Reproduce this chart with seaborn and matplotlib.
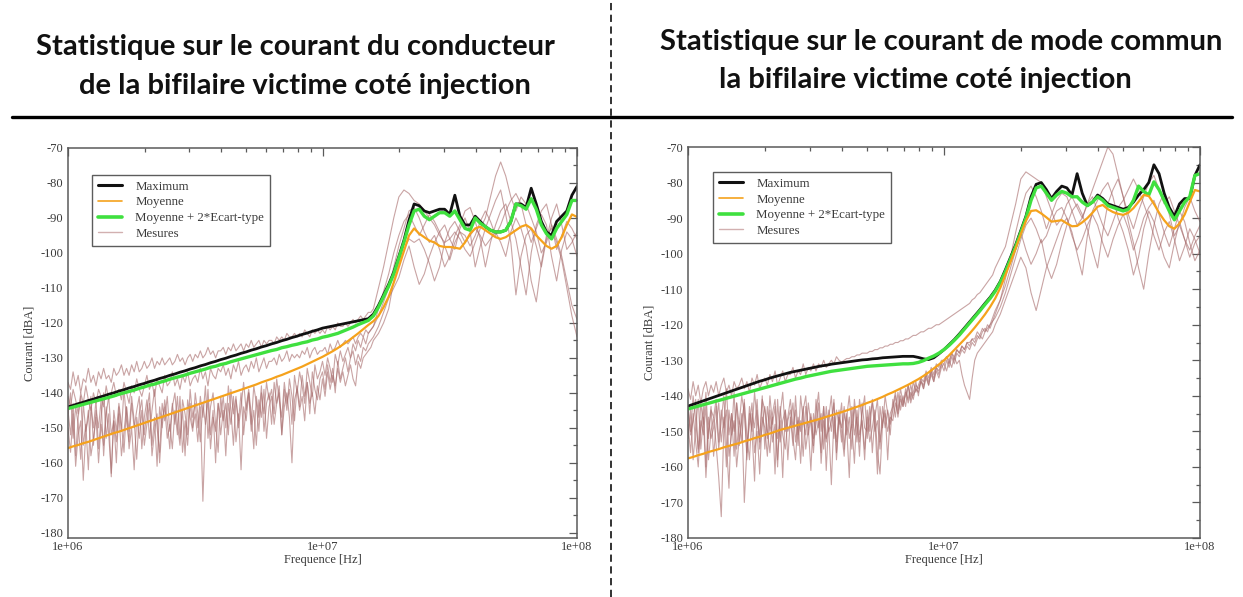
import numpy as np
import matplotlib
matplotlib.use("Agg")
import matplotlib.pyplot as plt
from matplotlib.lines import Line2D
from matplotlib.ticker import FixedLocator, MultipleLocator, NullFormatter, FuncFormatter
import seaborn as sns

# ---------------------------------------------------------------------------
# Frequency sweeps (Hz): statistics on a 0.02-decade grid, measurements on a
# 0.01-decade grid below 15.8 MHz and a 0.02-decade grid above.
# ---------------------------------------------------------------------------
freq_stats = 10 ** (6 + np.arange(101) * 0.02)
freq_mes = 10 ** (6 + np.concatenate([np.arange(120) * 0.01, 1.2 + np.arange(41) * 0.02]))

# ---------------- Left: courant du conducteur (dBA) ----------------
left_max = [
    -144.0, -143.6, -143.1, -142.7, -142.2, -141.8, -141.3, -140.9, -140.4, -140.0,
    -139.5, -139.1, -138.6, -138.2, -137.7, -137.3, -136.8, -136.4, -135.9, -135.5,
    -135.0, -134.6, -134.1, -133.7, -133.2, -132.8, -132.3, -131.9, -131.4, -131.0,
    -130.5, -130.1, -129.6, -129.2, -128.7, -128.3, -127.8, -127.4, -126.9, -126.5,
    -126.0, -125.6, -125.1, -124.7, -124.2, -123.8, -123.3, -122.9, -122.4, -122.0,
    -121.5, -121.2, -120.9, -120.6, -120.3, -120.0, -119.7, -119.4, -119.1, -118.8,
    -117.5, -115.0, -112.0, -109.0, -105.5, -101.0, -96.4, -90.6, -86.0, -86.5,
    -88.0, -88.5, -88.0, -87.5, -87.5, -89.0, -83.5, -89.5, -92.0, -92.0,
    -89.5, -91.0, -92.5, -93.5, -94.0, -94.0, -93.5, -91.0, -86.0, -86.0,
    -87.0, -81.5, -86.0, -91.0, -94.0, -95.0, -91.0, -89.5, -88.0, -83.5,
    -81.0,
]
left_moy = [
    -155.8, -155.3, -154.9, -154.4, -154.0, -153.5, -153.0, -152.5, -152.0, -151.5,
    -151.1, -150.6, -150.1, -149.6, -149.1, -148.6, -148.1, -147.6, -147.1, -146.6,
    -146.1, -145.6, -145.1, -144.6, -144.1, -143.6, -143.1, -142.6, -142.1, -141.6,
    -141.1, -140.6, -140.1, -139.6, -139.1, -138.6, -138.1, -137.6, -137.0, -136.5,
    -136.0, -135.4, -134.9, -134.3, -133.7, -133.1, -132.5, -131.8, -131.1, -130.4,
    -129.7, -128.9, -128.1, -127.2, -126.2, -125.2, -124.1, -123.0, -121.8, -120.6,
    -119.5, -118.0, -115.5, -112.5, -108.5, -104.0, -99.5, -95.0, -93.0, -94.5,
    -95.5, -96.5, -97.0, -98.0, -98.3, -98.3, -98.5, -98.8, -97.0, -94.5,
    -93.0, -92.5, -93.5, -94.5, -95.5, -96.0, -95.5, -94.5, -93.5, -92.5,
    -92.0, -93.0, -95.0, -96.5, -98.0, -98.8, -98.0, -95.5, -92.0, -89.0,
    -89.7,
]
left_moy2s = [
    -144.5, -144.1, -143.7, -143.3, -142.9, -142.5, -142.1, -141.7, -141.3, -140.9,
    -140.4, -140.0, -139.6, -139.2, -138.7, -138.3, -137.8, -137.5, -137.0, -136.6,
    -136.1, -135.7, -135.3, -134.9, -134.4, -134.0, -133.6, -133.2, -132.7, -132.4,
    -131.9, -131.6, -131.1, -130.7, -130.3, -129.9, -129.5, -129.1, -128.7, -128.3,
    -127.9, -127.6, -127.1, -126.8, -126.4, -126.1, -125.7, -125.4, -124.9, -124.6,
    -124.1, -123.8, -123.4, -123.0, -122.4, -121.8, -121.2, -120.5, -119.9, -119.3,
    -118.0, -115.5, -112.5, -109.5, -106.0, -101.5, -97.0, -92.0, -88.0, -87.5,
    -89.5, -90.5, -89.5, -88.5, -88.5, -89.5, -88.0, -90.5, -93.0, -93.5,
    -90.0, -91.5, -92.5, -93.5, -94.0, -94.0, -93.5, -91.0, -86.0, -86.5,
    -87.5, -84.5, -87.5, -92.0, -94.5, -96.0, -93.0, -91.0, -89.0, -85.0,
    -85.0,
]

left_mes_1 = [
    -137, -139, -134, -138, -135, -140, -136, -137, -133, -137,
    -135, -138, -134, -136, -133, -136, -135, -137, -133, -135,
    -134, -132, -135, -133, -135, -132, -134, -131, -134, -133,
    -131, -133, -132, -130, -133, -131, -132, -130, -132, -131,
    -130, -132, -131, -129, -131, -130, -132, -130, -129, -131,
    -129, -130, -128, -130, -129, -127, -129, -128, -130, -128,
    -128, -127, -129, -127, -128, -126, -128, -127, -126, -128,
    -126, -127, -125, -127, -126, -125, -127, -125, -126, -125,
    -125, -126, -124, -125, -124, -125, -123, -124, -124, -123,
    -124, -123, -124, -122, -123, -124, -122, -123, -122, -123,
    -122, -123, -121, -122, -121, -122, -120, -121, -121, -120,
    -121, -120, -119, -120, -119, -118, -119, -118, -117, -117,
    -116, -110, -104, -97, -90, -84, -82, -83, -85, -86,
    -88, -90, -92, -95, -97, -96, -94, -96, -99, -101,
    -97, -93, -90, -84, -78, -74, -78, -84, -88, -84,
    -86, -90, -94, -100, -97, -92, -96, -101, -108, -115,
    -119,
]
left_mes_2 = [
    -141, -144, -139, -142, -146, -140, -143, -138, -142, -145,
    -140, -143, -139, -141, -144, -138, -142, -140, -137, -141,
    -139, -142, -137, -140, -143, -138, -140, -136, -139, -141,
    -138, -135, -139, -137, -141, -136, -138, -140, -135, -138,
    -137, -134, -138, -136, -139, -135, -137, -134, -138, -136,
    -135, -137, -133, -136, -134, -138, -133, -135, -136, -133,
    -134, -132, -135, -133, -136, -132, -134, -131, -135, -133,
    -132, -134, -131, -133, -130, -134, -132, -130, -133, -131,
    -131, -130, -132, -129, -131, -130, -128, -131, -129, -130,
    -129, -130, -128, -129, -127, -130, -128, -127, -129, -128,
    -128, -127, -129, -126, -128, -127, -125, -127, -126, -125,
    -126, -125, -124, -126, -124, -123, -124, -122, -123, -122,
    -121, -118, -114, -110, -104, -98, -93, -88, -87, -90,
    -94, -97, -95, -99, -104, -101, -95, -92, -88, -87,
    -91, -96, -104, -97, -92, -88, -86, -91, -96, -104,
    -112, -100, -92, -88, -86, -92, -99, -95, -91, -93,
    -96,
]
left_mes_3 = [
    -145, -152, -143, -158, -147, -141, -155, -149, -162, -144,
    -150, -142, -156, -147, -140, -153, -146, -164, -145, -151,
    -143, -149, -157, -144, -151, -141, -148, -159, -146, -142,
    -152, -145, -140, -155, -147, -161, -144, -150, -142, -148,
    -156, -143, -149, -141, -153, -145, -158, -142, -147, -151,
    -140, -146, -154, -143, -149, -139, -152, -145, -160, -143,
    -147, -141, -150, -138, -145, -155, -142, -148, -140, -152,
    -144, -139, -146, -156, -141, -147, -138, -151, -143, -140,
    -149, -137, -143, -140, -152, -139, -145, -136, -141, -148,
    -138, -144, -135, -141, -137, -146, -134, -139, -142, -136,
    -134, -139, -132, -137, -133, -140, -131, -136, -133, -130,
    -134, -130, -128, -132, -129, -131, -127, -128, -126, -125,
    -124, -121, -117, -113, -110, -107, -102, -98, -104, -109,
    -106, -101, -97, -94, -92, -96, -99, -93, -90, -94,
    -104, -98, -93, -89, -85, -82, -89, -97, -112, -101,
    -95, -93, -98, -104, -96, -90, -86, -92, -99, -97,
    -94,
]
left_mes_4 = [
    -150, -157, -146, -161, -152, -148, -165, -151, -145, -158,
    -153, -147, -160, -149, -155, -144, -152, -163, -148, -154,
    -146, -158, -151, -144, -156, -150, -162, -147, -153, -145,
    -155, -149, -143, -158, -151, -146, -160, -148, -144, -153,
    -149, -156, -145, -152, -141, -157, -148, -155, -143, -150,
    -146, -154, -144, -171, -149, -142, -156, -147, -151, -143,
    -152, -145, -158, -143, -149, -141, -154, -146, -162, -144,
    -148, -140, -151, -145, -155, -142, -147, -139, -153, -144,
    -141, -149, -143, -138, -152, -144, -140, -147, -160, -142,
    -139, -145, -141, -148, -137, -143, -140, -146, -138, -142,
    -136, -141, -134, -139, -135, -138, -133, -137, -134, -138,
    -135, -132, -136, -138, -131, -133, -130, -129, -128, -127,
    -125, -123, -120, -116, -108, -103, -99, -96, -97, -96,
    -99, -103, -108, -104, -97, -93, -91, -94, -97, -95,
    -93, -95, -98, -96, -94, -97, -101, -94, -90, -93,
    -98, -108, -114, -103, -95, -93, -97, -102, -110, -118,
    -124,
]
left_mes_5 = [
    -146, -140, -153, -144, -149, -159, -143, -151, -147, -141,
    -155, -145, -150, -142, -158, -146, -141, -152, -148, -160,
    -144, -151, -139, -148, -154, -143, -150, -145, -141, -156,
    -147, -142, -153, -145, -139, -150, -157, -143, -148, -141,
    -151, -144, -140, -149, -155, -142, -146, -152, -139, -147,
    -143, -150, -141, -147, -138, -153, -144, -140, -149, -157,
    -141, -148, -143, -152, -139, -146, -141, -150, -144, -137,
    -145, -140, -149, -138, -143, -151, -140, -146, -137, -142,
    -139, -146, -136, -142, -147, -137, -143, -139, -149, -135,
    -140, -134, -138, -143, -133, -137, -141, -132, -136, -134,
    -131, -135, -130, -133, -137, -129, -132, -128, -131, -129,
    -127, -130, -126, -128, -125, -127, -124, -126, -123, -122,
    -121, -116, -111, -106, -100, -95, -91, -89, -92, -95,
    -92, -89, -91, -94, -98, -102, -97, -94, -95, -98,
    -95, -91, -88, -91, -95, -92, -88, -85, -83, -86,
    -92, -97, -93, -89, -92, -101, -108, -99, -94, -96,
    -101,
]

# ---------------- Right: courant de mode commun (dBA) ----------------
right_max = [
    -142.9, -142.4, -141.9, -141.4, -140.9, -140.4, -139.9, -139.4, -138.9, -138.4,
    -137.9, -137.4, -136.9, -136.4, -135.9, -135.5, -135.0, -134.6, -134.2, -133.8,
    -133.4, -133.1, -132.8, -132.5, -132.2, -131.9, -131.6, -131.4, -131.1, -130.9,
    -130.7, -130.5, -130.3, -130.1, -129.9, -129.8, -129.6, -129.5, -129.3, -129.2,
    -129.1, -129.0, -128.9, -128.9, -128.9, -129.2, -129.6, -129.8, -129.3, -128.2,
    -127.0, -125.6, -124.2, -122.6, -120.9, -119.2, -117.5, -115.8, -114.0, -112.3,
    -110.3, -107.8, -104.5, -101.0, -97.5, -93.5, -89.5, -84.0, -80.5, -80.0,
    -82.0, -84.5, -82.5, -81.0, -81.5, -83.5, -77.5, -83.0, -86.5, -85.5,
    -83.5, -84.5, -86.0, -86.5, -87.0, -87.5, -87.0, -85.5, -83.5, -82.0,
    -80.0, -75.0, -77.5, -83.0, -87.0, -89.5, -86.0, -84.5, -84.5, -78.0,
    -75.0,
]
right_moy = [
    -157.6, -157.2, -156.7, -156.3, -155.8, -155.4, -155.0, -154.5, -154.1, -153.7,
    -153.3, -152.8, -152.4, -151.9, -151.5, -151.0, -150.6, -150.1, -149.6, -149.2,
    -148.8, -148.4, -148.0, -147.6, -147.2, -146.8, -146.4, -145.9, -145.5, -145.0,
    -144.6, -144.1, -143.6, -143.1, -142.6, -142.0, -141.5, -140.9, -140.3, -139.6,
    -139.0, -138.3, -137.6, -136.9, -136.1, -135.3, -134.4, -133.4, -132.3, -131.2,
    -130.0, -128.6, -127.1, -125.6, -124.1, -122.5, -120.8, -119.0, -117.1, -115.0,
    -112.6, -109.6, -106.0, -102.3, -98.5, -94.5, -90.8, -88.0, -87.8, -88.7,
    -89.8, -91.0, -90.8, -90.6, -91.5, -92.3, -92.2, -91.2, -90.0, -88.5,
    -86.8, -86.3, -87.5, -88.3, -88.8, -89.1, -88.5, -87.2, -85.4, -83.5,
    -83.8, -86.0, -88.5, -90.6, -92.3, -93.0, -91.5, -89.0, -85.5, -82.1,
    -82.5,
]
right_moy2s = [
    -143.7, -143.3, -142.9, -142.5, -142.1, -141.7, -141.3, -140.9, -140.5, -140.1,
    -139.7, -139.3, -138.9, -138.5, -138.1, -137.7, -137.3, -136.9, -136.5, -136.1,
    -135.7, -135.3, -135.0, -134.6, -134.3, -134.0, -133.7, -133.4, -133.1, -132.9,
    -132.7, -132.5, -132.3, -132.1, -131.9, -131.7, -131.6, -131.5, -131.4, -131.3,
    -131.2, -131.1, -131.0, -131.0, -130.9, -130.6, -130.1, -129.4, -128.8, -128.0,
    -127.0, -125.8, -124.4, -122.9, -121.2, -119.5, -117.8, -116.1, -114.3, -112.6,
    -110.6, -108.1, -105.0, -101.5, -98.0, -94.0, -90.0, -85.0, -81.5, -81.0,
    -83.0, -85.0, -83.5, -82.5, -83.0, -84.0, -84.0, -85.5, -86.5, -85.5,
    -84.0, -85.0, -86.5, -87.0, -87.5, -88.0, -87.5, -85.0, -81.0, -82.5,
    -83.5, -79.8, -82.0, -85.0, -88.0, -90.5, -88.0, -85.5, -84.0, -78.0,
    -77.5,
]

right_mes_1 = [
    -138, -141, -136, -140, -137, -142, -138, -136, -140, -137,
    -139, -136, -140, -137, -135, -139, -137, -140, -136, -138,
    -137, -135, -138, -136, -139, -135, -137, -134, -138, -136,
    -135, -137, -134, -136, -133, -137, -135, -133, -136, -134,
    -134, -132, -135, -133, -134, -131, -134, -132, -133, -131,
    -133, -131, -132, -130, -132, -131, -130, -131, -129, -130,
    -130.5, -130, -129.5, -129.5, -129, -129, -128.5, -128.5, -128, -128,
    -128, -127.5, -127.5, -127, -127, -126.5, -126.5, -126, -126, -125.5,
    -125.5, -125, -125, -124.5, -124.5, -124, -124, -123.5, -123, -123,
    -122.5, -122, -122, -121.5, -121, -121, -120.5, -120, -120, -119.5,
    -119, -118.5, -118, -117.5, -117, -116.5, -116, -115.5, -115, -114.5,
    -114, -113, -112.5, -111.5, -111, -110, -109, -108, -107, -106,
    -104, -101, -98, -92, -86, -79, -77, -78, -79, -80,
    -84, -88, -92, -90, -86, -84, -87, -90, -86, -82,
    -78, -74, -70, -72, -78, -84, -89, -93, -88, -84,
    -80, -78, -82, -86, -84, -88, -92, -96, -99, -95,
    -92,
]
right_mes_2 = [
    -143, -150, -140, -147, -155, -142, -148, -139, -152, -144,
    -146, -141, -153, -144, -149, -138, -151, -145, -157, -142,
    -148, -140, -145, -156, -143, -150, -139, -147, -153, -141,
    -144, -152, -140, -148, -143, -158, -145, -139, -150, -146,
    -141, -149, -144, -154, -140, -147, -151, -142, -148, -156,
    -145, -139, -150, -143, -161, -146, -140, -152, -144, -148,
    -142, -155, -146, -140, -149, -143, -153, -141, -147, -158,
    -144, -150, -141, -147, -162, -143, -149, -140, -145, -151,
    -141, -146, -139, -144, -140, -143, -137, -142, -139, -136,
    -140, -135, -138, -134, -137, -133, -136, -132, -134, -131,
    -133, -130, -132, -129, -131, -128, -129, -127, -128, -126,
    -127, -125, -126, -124, -123, -124, -122, -121, -120, -118,
    -116, -113, -109, -104, -99, -94, -99, -103, -100, -96,
    -103, -107, -103, -97, -92, -88, -86, -89, -93, -99,
    -104, -94, -86, -82, -79, -84, -91, -97, -104, -110,
    -100, -92, -86, -83, -89, -95, -92, -87, -84, -88,
    -91,
]
right_mes_3 = [
    -148, -156, -145, -153, -160, -147, -151, -143, -158, -150,
    -146, -154, -163, -174, -149, -144, -157, -151, -147, -160,
    -152, -145, -170, -155, -148, -142, -156, -150, -162, -146,
    -149, -157, -144, -153, -148, -160, -143, -151, -155, -147,
    -144, -152, -158, -146, -150, -143, -155, -149, -161, -145,
    -151, -147, -156, -143, -152, -149, -165, -146, -153, -144,
    -150, -157, -145, -152, -148, -159, -144, -151, -147, -155,
    -146, -153, -149, -144, -156, -162, -148, -145, -150, -146,
    -147, -142, -145, -140, -143, -139, -141, -137, -140, -138,
    -139, -136, -138, -135, -137, -134, -136, -133, -135, -132,
    -131, -133, -130, -132, -129, -131, -130, -134, -137, -139,
    -141, -135, -130, -128, -127, -126, -125, -124, -123, -122,
    -120, -117, -113, -109, -105, -101, -104, -111, -116, -110,
    -104, -100, -96, -92, -90, -94, -100, -106, -95, -88,
    -85, -82, -80, -84, -90, -94, -99, -106, -101, -93,
    -88, -91, -96, -101, -104, -97, -91, -96, -101, -97,
    -95,
]
right_mes_4 = [
    -152, -144, -158, -149, -141, -155, -146, -163, -150, -143,
    -157, -148, -142, -153, -146, -160, -144, -151, -139, -155,
    -147, -153, -141, -158, -145, -150, -164, -144, -152, -140,
    -155, -143, -150, -146, -162, -141, -153, -147, -144, -158,
    -146, -154, -140, -151, -147, -157, -143, -149, -145, -152,
    -148, -142, -159, -147, -153, -144, -150, -141, -156, -146,
    -153, -145, -149, -163, -143, -151, -146, -157, -142, -149,
    -150, -143, -156, -146, -141, -153, -147, -144, -158, -145,
    -143, -139, -144, -138, -142, -140, -137, -141, -136, -139,
    -137, -135, -136, -133, -135, -132, -134, -131, -132, -130,
    -130, -129, -131, -128, -130, -127, -128, -126, -127, -125,
    -126, -124, -125, -123, -124, -122, -121, -122, -120, -119,
    -117, -113, -107, -101, -94, -88, -83, -81, -84, -88,
    -93, -89, -85, -83, -84, -88, -92, -90, -86, -84,
    -88, -92, -95, -91, -87, -85, -82, -79, -82, -86,
    -90, -95, -99, -94, -91, -96, -102, -98, -93, -96,
    -100,
]
right_mes_5 = [
    -144, -151, -147, -141, -156, -149, -143, -160, -146, -152,
    -149, -143, -155, -147, -140, -153, -166, -145, -150, -142,
    -154, -147, -142, -151, -158, -145, -149, -141, -155, -148,
    -143, -150, -156, -145, -141, -152, -147, -163, -144, -150,
    -148, -142, -153, -147, -159, -144, -140, -151, -146, -154,
    -141, -149, -145, -155, -143, -150, -147, -142, -158, -146,
    -149, -143, -151, -146, -155, -141, -148, -153, -145, -140,
    -152, -146, -142, -150, -147, -155, -143, -149, -144, -148,
    -144, -140, -146, -141, -143, -138, -142, -139, -141, -137,
    -138, -136, -137, -134, -136, -133, -135, -132, -133, -131,
    -131, -129, -130, -128, -129, -127, -128, -126, -127, -125,
    -125, -124, -124, -122, -123, -121, -122, -120, -121, -119,
    -118, -115, -111, -106, -101, -96, -92, -90, -93, -97,
    -95, -91, -88, -87, -90, -95, -99, -96, -92, -89,
    -92, -97, -101, -96, -92, -89, -93, -99, -95, -90,
    -87, -85, -89, -94, -98, -93, -88, -91, -97, -102,
    -99,
]

titles_left = ["Statistique sur le courant du conducteur",
               "de la bifilaire victime coté injection"]
titles_right = ["Statistique sur le courant de mode commun",
                "la bifilaire victime coté injection"]
legend_labels = ["Maximum", "Moyenne", "Moyenne + 2*Ecart-type", "Mesures"]
x_tick_labels = ["1e+06", "1e+07", "1e+08"]

# ---------------------------------------------------------------------------
sns.set_theme(style="white")
plt.rcParams["font.family"] = ["Liberation Serif", "DejaVu Serif"]
plt.rcParams["axes.unicode_minus"] = False

C_MAX = "#111111"
C_MOY = "#f5a21c"
C_MOY2S = "#3fe03f"
C_MES = "#a86c6c"
AX_COL = "#5a5a5a"
TXT_COL = "#3a3a3a"

fig = plt.figure(figsize=(12.43, 5.97), dpi=100)
fig.patch.set_facecolor("white")

ax_l = fig.add_axes([68 / 1243, 1 - 538 / 597, 509 / 1243, 390 / 597])
ax_r = fig.add_axes([688 / 1243, 1 - 538 / 597, 512 / 1243, 391 / 597])


def draw_panel(ax, mes_curves, v_max, v_moy, v_moy2s, ylim, legend_anchor):
    ax.set_xscale("log")
    for vals in mes_curves:
        sns.lineplot(x=freq_mes, y=vals, ax=ax, color=C_MES, lw=0.8, alpha=0.62,
                     estimator=None, sort=False)
    sns.lineplot(x=freq_stats, y=v_max, ax=ax, color=C_MAX, lw=2.0,
                 estimator=None, sort=False)
    sns.lineplot(x=freq_stats, y=v_moy2s, ax=ax, color=C_MOY2S, lw=2.4,
                 estimator=None, sort=False)
    sns.lineplot(x=freq_stats, y=v_moy, ax=ax, color=C_MOY, lw=1.6,
                 estimator=None, sort=False)

    ax.set_xlim(1e6, 1e8)
    ax.set_ylim(*ylim)
    ax.xaxis.set_major_locator(FixedLocator([1e6, 1e7, 1e8]))
    ax.xaxis.set_major_formatter(FuncFormatter(
        lambda v, p: x_tick_labels[int(round(np.log10(v))) - 6]))
    minors = [m * 10 ** e for e in (6, 7) for m in range(2, 10)]
    ax.xaxis.set_minor_locator(FixedLocator(minors))
    ax.xaxis.set_minor_formatter(NullFormatter())
    ax.yaxis.set_major_locator(MultipleLocator(10))
    ax.yaxis.set_minor_locator(MultipleLocator(5))
    ax.tick_params(which="both", direction="in", top=True, right=True,
                   colors=AX_COL, labelcolor=TXT_COL, labelsize=9, width=0.9)
    ax.tick_params(which="major", length=6)
    ax.tick_params(which="minor", length=3)
    ax.tick_params(axis="x", which="major", pad=2)
    for s in ax.spines.values():
        s.set_color(AX_COL)
        s.set_linewidth(1.1)
    ax.set_xlabel("Frequence [Hz]", fontsize=9, color=TXT_COL, labelpad=1)
    ax.set_ylabel("Courant [dBA]", fontsize=9, color=TXT_COL, labelpad=3)

    handles = [
        Line2D([], [], color=C_MAX, lw=2.2),
        Line2D([], [], color=C_MOY, lw=1.2),
        Line2D([], [], color=C_MOY2S, lw=2.6),
        Line2D([], [], color="#d2b0b0", lw=1.0),
    ]
    leg = ax.legend(handles, legend_labels, loc="upper left",
                    bbox_to_anchor=legend_anchor, borderaxespad=0,
                    fontsize=9.3, frameon=True, fancybox=False,
                    edgecolor="#333333", handlelength=1.9, handletextpad=1.0,
                    labelspacing=0.28, borderpad=0.45)
    leg.get_frame().set_linewidth(1.0)
    for t in leg.get_texts():
        t.set_color(TXT_COL)


draw_panel(ax_l, [left_mes_1, left_mes_2, left_mes_3, left_mes_4, left_mes_5],
           left_max, left_moy, left_moy2s, (-181.5, -70), (0.047, 0.931))
draw_panel(ax_r, [right_mes_1, right_mes_2, right_mes_3, right_mes_4, right_mes_5],
           right_max, right_moy, right_moy2s, (-180, -70), (0.049, 0.936))

# Titles
title_kw = dict(fontsize=21, fontweight="bold", color="#111111",
                ha="center", va="center", family=["Lato", "DejaVu Sans"])
fig.text(295 / 1243, 1 - 47 / 597, titles_left[0], **title_kw)
fig.text(305 / 1243, 1 - 86 / 597, titles_left[1], **title_kw)
fig.text(941 / 1243, 1 - 42 / 597, titles_right[0], **title_kw)
fig.text(925 / 1243, 1 - 80 / 597, titles_right[1], **title_kw)

# Separators
fig.add_artist(Line2D([12 / 1243, 1232 / 1243], [1 - 117 / 597] * 2,
                      transform=fig.transFigure, color="black", lw=2.4))
fig.add_artist(Line2D([611 / 1243] * 2, [0, 1], transform=fig.transFigure,
                      color="#222222", lw=1.3, linestyle=(0, (4, 2.5))))

fig.savefig("out.png", dpi=100, facecolor="white")
